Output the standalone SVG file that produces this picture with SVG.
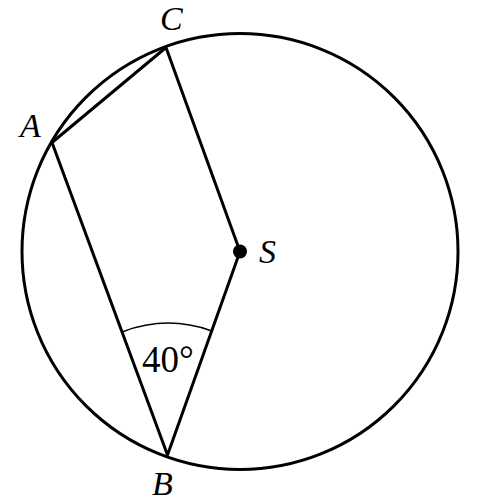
<svg xmlns="http://www.w3.org/2000/svg" width="482" height="503" viewBox="0 0 482 503">
<style>
.ln{stroke:#000;stroke-width:3;fill:none;stroke-linecap:round;stroke-linejoin:round}
.lbl{font-family:"Liberation Serif",serif;font-style:italic;font-size:34px;fill:#000}
.num{font-family:"Liberation Serif",serif;font-size:37px;fill:#000}
</style>
<rect width="482" height="503" fill="#fff"/>
<g id="circle"><circle cx="240" cy="251.5" r="218" class="ln"/></g>
<g id="connectors">
<polyline class="ln" points="240,251.5 166,47.5 52,142.5 167.5,455 240,251.5"/>
<path d="M122.7,331.7 Q167,315 211,330.7" stroke="#000" stroke-width="1.5" fill="none"/>
</g>
<g id="S"><circle cx="240" cy="251.5" r="7" fill="#000"/><text class="lbl" x="259" y="263">S</text></g>
<g id="C"><text class="lbl" x="160" y="30">C</text></g>
<g id="A"><text class="lbl" x="20" y="137">A</text></g>
<g id="B"><text class="lbl" x="152" y="495">B</text></g>
<g id="angle"><text class="num" x="142" y="372">40°</text></g>
</svg>
